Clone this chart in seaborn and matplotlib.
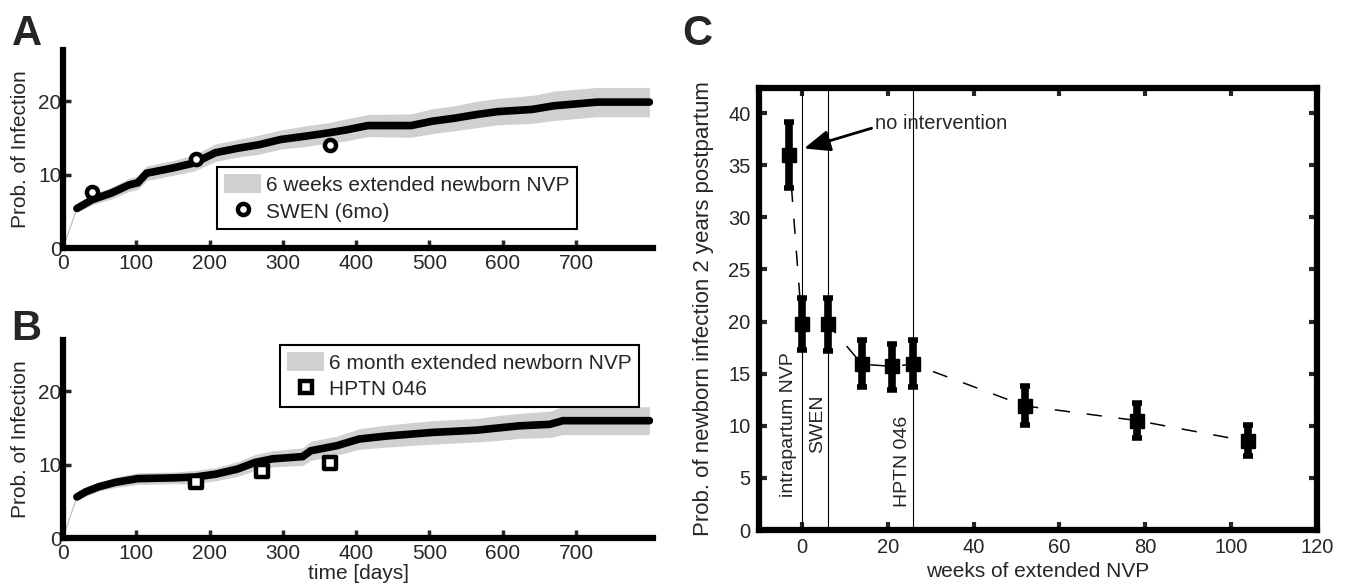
import numpy as np
import matplotlib
matplotlib.use("Agg")
import matplotlib.pyplot as plt
from matplotlib.patches import Patch
from matplotlib.lines import Line2D
import seaborn as sns

sns.set_style("white")
plt.rcParams['font.family'] = ['Liberation Sans', 'DejaVu Sans']

# ---------------- panel A : 6 weeks extended newborn NVP ----------------
a_days = [19, 40, 66, 90, 102, 114, 149, 179, 208, 238, 268, 297, 327, 362, 386,
          416, 475, 504, 534, 564, 593, 640, 670, 729, 800]
a_prob = [5.4, 6.6, 7.5, 8.6, 8.9, 10.2, 10.9, 11.6, 13.0, 13.6, 14.1, 14.8, 15.2, 15.7, 16.1,
          16.7, 16.7, 17.3, 17.7, 18.2, 18.6, 18.9, 19.4, 19.9, 19.9]
a_lo = [4.9, 5.9, 6.7, 7.7, 8.0, 9.2, 9.9, 10.5, 11.8, 12.4, 12.8, 13.5, 13.8, 14.3, 14.6,
        15.2, 15.1, 15.6, 16.0, 16.4, 16.8, 17.0, 17.4, 17.9, 17.9]
a_hi = [5.9, 7.3, 8.3, 9.5, 9.8, 11.2, 11.9, 12.7, 14.2, 14.8, 15.4, 16.1, 16.6, 17.1, 17.6,
        18.2, 18.3, 19.0, 19.4, 20.0, 20.4, 20.8, 21.4, 21.9, 21.9]
swen_days = [40, 182, 364]
swen_prob = [7.7, 12.1, 14.1]

# ---------------- panel B : 6 month extended newborn NVP ----------------
b_days = [19, 31, 49, 72, 102, 149, 179, 208, 238, 262, 286, 327, 338, 374, 404,
          441, 504, 564, 593, 623, 664, 682, 800]
b_prob = [5.6, 6.3, 7.0, 7.6, 8.1, 8.2, 8.3, 8.7, 9.4, 10.3, 10.8, 11.1, 11.9, 12.6, 13.5,
          13.9, 14.4, 14.7, 15.0, 15.3, 15.5, 16.0, 16.0]
b_lo = [5.1, 5.7, 6.4, 6.9, 7.3, 7.4, 7.4, 7.8, 8.4, 9.2, 9.7, 9.9, 10.6, 11.3, 12.1,
        12.4, 12.8, 13.1, 13.3, 13.6, 13.7, 14.1, 14.1]
b_hi = [6.1, 6.9, 7.6, 8.3, 8.9, 9.0, 9.2, 9.6, 10.4, 11.4, 11.9, 12.3, 13.2, 13.9, 14.9,
        15.4, 16.0, 16.3, 16.7, 17.0, 17.3, 17.9, 17.9]
hptn_days = [182, 272, 364]
hptn_prob = [7.6, 9.2, 10.2]

# ---------------- panel C : weeks of extended NVP ----------------
c_weeks = [-3, 0, 6, 14, 21, 26, 52, 78, 104]
c_prob = [36.0, 19.8, 19.8, 15.9, 15.7, 15.9, 11.9, 10.5, 8.5]
c_lo = [32.8, 17.3, 17.2, 13.7, 13.4, 13.7, 10.1, 8.8, 7.1]
c_hi = [39.1, 22.3, 22.3, 18.2, 17.8, 18.2, 13.8, 12.2, 10.1]
trial_weeks = [0, 6, 26]
trial_names = ["intrapartum NVP", "SWEN", "HPTN 046"]
trial_text_x = [-3.0, 3.7, 23.5]
trial_text_y = [3.2, 7.4, 2.2]

BAND = "#cfd0d2"
SPINE_W = 4.5

fig = plt.figure(figsize=(13.49, 5.85), dpi=100)
axA = fig.add_axes([0.0467, 0.576, 0.4374, 0.3385])
axB = fig.add_axes([0.0467, 0.0803, 0.4374, 0.3385])
axC = fig.add_axes([0.5626, 0.094, 0.4137, 0.7556])


def survival_panel(ax, days, prob, lo, hi, pts_x, pts_y, marker, band_label, pts_label, leg_xy):
    ax.fill_between(days, lo, hi, color=BAND, lw=0, label=band_label, zorder=1)
    ax.plot([0, days[0]], [0, prob[0]], color="#bbbbbb", lw=0.8, zorder=2)
    sns.lineplot(x=days, y=prob, ax=ax, color="black", lw=5.5, estimator=None,
                 solid_joinstyle="miter", zorder=3)
    sns.scatterplot(x=pts_x, y=pts_y, ax=ax, marker=marker, s=64, facecolor="white",
                    edgecolor="black", linewidth=3.2, zorder=4)
    ax.set_xlim(0, 805)
    ax.set_ylim(0, 27)
    ax.set_xticks(range(0, 701, 100))
    ax.set_yticks([0, 10, 20])
    for s in ["top", "right"]:
        ax.spines[s].set_visible(False)
    for s in ["left", "bottom"]:
        ax.spines[s].set_linewidth(SPINE_W)
        ax.spines[s].set_color("black")
    ax.tick_params(axis="both", direction="in", length=6, width=2.5, labelsize=15,
                   left=True, bottom=True)
    ax.tick_params(axis="y", pad=1)
    ax.tick_params(axis="x", pad=4)
    ax.set_ylabel("Prob. of Infection", fontsize=15, labelpad=6)
    handles = [Patch(facecolor=BAND, edgecolor="none"),
               Line2D([], [], ls="none", marker=marker, ms=8, mfc="white", mec="black", mew=3.2)]
    leg = ax.legend(handles, [band_label, pts_label], loc="upper left", bbox_to_anchor=leg_xy,
                    fontsize=15, frameon=True, fancybox=False, framealpha=1, edgecolor="black",
                    handlelength=1.75, handleheight=1.0, handletextpad=0.25, borderpad=0.35,
                    labelspacing=0.3, borderaxespad=0)
    leg.get_frame().set_linewidth(1.5)


survival_panel(axA, a_days, a_prob, a_lo, a_hi, swen_days, swen_prob, "o",
               "6 weeks extended newborn NVP", "SWEN (6mo)", (0.261, 0.409))
survival_panel(axB, b_days, b_prob, b_lo, b_hi, hptn_days, hptn_prob, "s",
               "6 month extended newborn NVP", "HPTN 046", (0.368, 0.975))
axB.set_xlabel("time [days]", fontsize=15, labelpad=1)

# ---------------- panel C ----------------
for wk, name, tx, ty in zip(trial_weeks, trial_names, trial_text_x, trial_text_y):
    axC.axvline(wk, color="black", lw=0.8, zorder=1)
    axC.text(tx, ty, name, rotation=90, ha="center", va="bottom", fontsize=14)

sns.lineplot(x=c_weeks, y=c_prob, ax=axC, color="black", lw=1.1, estimator=None,
             linestyle=(0, (10, 11)), zorder=2)
yerr = [np.array(c_prob) - np.array(c_lo), np.array(c_hi) - np.array(c_prob)]
axC.errorbar(c_weeks, c_prob, yerr=yerr, fmt="s", ms=10.5, color="black", ecolor="black",
             elinewidth=5.5, capsize=3.3, capthick=4, zorder=3)

axC.annotate("no intervention", xy=(0.5, 36.6), xytext=(17, 39.0), fontsize=14.5,
             va="center", ha="left",
             arrowprops=dict(arrowstyle="-|>,head_length=1.1,head_width=0.45", color="black",
                             lw=2, shrinkA=0, shrinkB=0, relpos=(0, 0.3)))

axC.set_xlim(-10, 120)
axC.set_ylim(0, 42.4)
axC.set_xticks(range(0, 121, 20))
axC.set_yticks(range(0, 41, 5))
for s in axC.spines.values():
    s.set_linewidth(SPINE_W)
    s.set_color("black")
axC.tick_params(axis="both", direction="in", length=6, width=3, labelsize=14.5,
                left=True, bottom=True, right=True, top=True)
axC.tick_params(axis="x", pad=6)
axC.tick_params(axis="y", pad=6)
axC.set_xlabel("weeks of extended NVP", fontsize=15, labelpad=3)
axC.set_ylabel("Prob. of newborn infection 2 years postpartum", fontsize=16, labelpad=10)

# panel letters
fig.text(0.009, 0.923, "A", fontsize=30, fontweight="bold", va="baseline")
fig.text(0.008, 0.419, "B", fontsize=30, fontweight="bold", va="baseline")
fig.text(0.506, 0.923, "C", fontsize=30, fontweight="bold", va="baseline")

fig.savefig("out.png", dpi=100)
